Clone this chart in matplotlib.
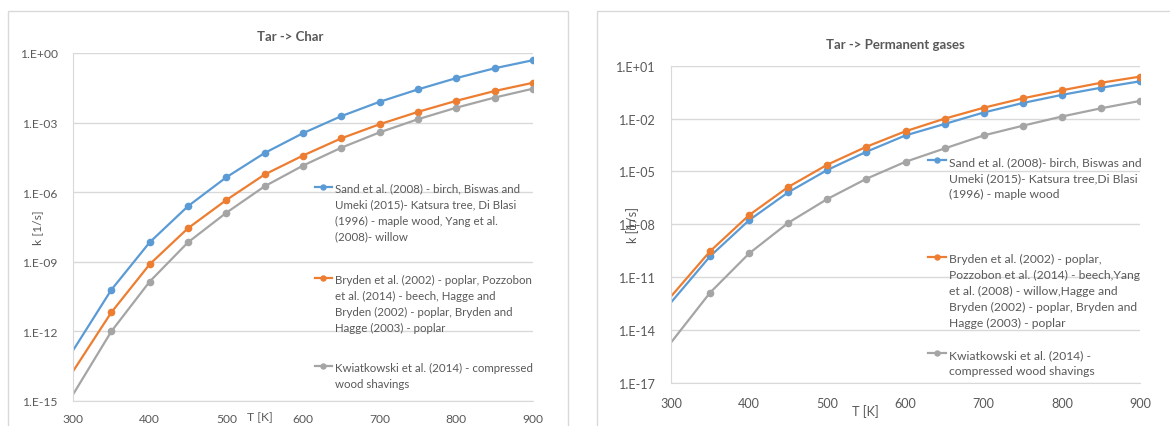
import numpy as np
import matplotlib
matplotlib.use('Agg')
import matplotlib.pyplot as plt
from matplotlib.patches import Rectangle

plt.rcParams['font.family'] = ['Lato', 'DejaVu Sans']

# temperature grid [K]
T = [300, 350, 400, 450, 500, 550, 600, 650, 700, 750, 800, 850, 900]

# Tar -> Char, k [1/s]
char_blue = [1.5e-13, 6.2e-11, 6.9e-9, 2.5e-7, 4.4e-6, 4.9e-5, 3.5e-4,
             1.9e-3, 7.9e-3, 2.7e-2, 8.3e-2, 0.22, 0.49]
char_orange = [1.9e-14, 6.6e-12, 7.8e-10, 2.8e-8, 4.6e-7, 5.8e-6, 3.8e-5,
               2.1e-4, 8.5e-4, 2.9e-3, 8.7e-3, 2.3e-2, 5.2e-2]
char_gray = [1.9e-15, 1.0e-12, 1.4e-10, 6.9e-9, 1.3e-7, 1.8e-6, 1.4e-5,
             8.3e-5, 3.8e-4, 1.4e-3, 4.4e-3, 1.2e-2, 2.9e-2]

# Tar -> Permanent gases, k [1/s]
gas_blue = [3.6e-13, 1.5e-10, 1.7e-8, 6.5e-7, 1.2e-5, 1.3e-4, 1.1e-3,
            4.9e-3, 2.2e-2, 7.6e-2, 0.22, 0.56, 1.3]
gas_orange = [7.9e-13, 2.9e-10, 3.3e-8, 1.3e-6, 2.4e-5, 2.5e-4, 1.9e-3,
              9.8e-3, 4.1e-2, 0.14, 0.40, 1.07, 2.4]
gas_gray = [1.9e-15, 1.3e-12, 2.2e-10, 1.2e-8, 2.7e-7, 3.8e-6, 3.5e-5,
            2.0e-4, 1.1e-3, 3.9e-3, 1.3e-2, 3.8e-2, 0.10]

char_labels = [
    'Sand et al. (2008) - birch, Biswas and\nUmeki (2015)- Katsura tree, Di Blasi\n(1996) - maple wood, Yang et al.\n(2008)- willow',
    'Bryden et al. (2002) - poplar, Pozzobon\net al. (2014) - beech, Hagge and\nBryden (2002) - poplar, Bryden and\nHagge (2003) - poplar',
    'Kwiatkowski et al. (2014) - compressed\nwood shavings',
]
gas_labels = [
    'Sand et al. (2008)- birch, Biswas and\nUmeki (2015)- Katsura tree,Di Blasi\n(1996) - maple wood',
    'Bryden et al. (2002) - poplar,\nPozzobon et al. (2014) - beech,Yang\net al. (2008) - willow,Hagge and\nBryden (2002) - poplar, Bryden and\nHagge (2003) - poplar',
    'Kwiatkowski et al. (2014) -\ncompressed wood shavings',
]

x_ticks = [300, 400, 500, 600, 700, 800, 900]
char_yticks = [1e-15, 1e-12, 1e-9, 1e-6, 1e-3, 1e0]
char_ylabels = ['1.E-15', '1.E-12', '1.E-09', '1.E-06', '1.E-03', '1.E+00']
gas_yticks = [1e-17, 1e-14, 1e-11, 1e-8, 1e-5, 1e-2, 1e1]
gas_ylabels = ['1.E-17', '1.E-14', '1.E-11', '1.E-08', '1.E-05', '1.E-02', '1.E+01']

colors = ['#5B9BD5', '#ED7D31', '#A5A5A5']
txt = '#595959'
grid = '#D9D9D9'

W, H = 1170, 427


def draw(ax, series, labels, yticks, ylabels, fs, leg_x, leg_tops, xlab_xy, ylab_x, xpad):
    lines = []
    for y, c, lab in zip(series, colors, labels):
        ln, = ax.plot(T, y, color=c, lw=1.6, marker='o', ms=4.5,
                      markevery=slice(1, None), label=lab)
        lines.append(ln)
    ax.set_yscale('log')
    ax.set_xlim(300, 900)
    ax.set_ylim(yticks[0], yticks[-1])
    ax.set_yticks(yticks)
    ax.set_yticklabels(ylabels)
    ax.minorticks_off()
    ax.set_xticks(x_ticks)
    ax.yaxis.grid(True, color=grid, lw=1)
    ax.set_axisbelow(True)
    for s in ['top', 'right']:
        ax.spines[s].set_visible(False)
    for s in ['left', 'bottom']:
        ax.spines[s].set_color(grid)
    ax.tick_params(length=0, labelsize=fs + 0.4, labelcolor=txt)
    ax.tick_params(axis='y', pad=11)
    ax.tick_params(axis='x', pad=xpad)
    ax.set_ylabel('k [1/s]', fontsize=fs + 0.4, color=txt)
    ax.yaxis.set_label_coords(ylab_x, 0.5)
    ax.text(xlab_xy[0], xlab_xy[1], 'T [K]', transform=ax.transAxes,
            fontsize=fs + 0.4, color=txt, ha='center', va='center')

    # one legend block per series, marker next to the first text line
    for ln, top in zip(lines, leg_tops):
        leg = fig.legend(handles=[ln], loc='upper left',
                         bbox_to_anchor=(leg_x / W, 1 - top / H),
                         frameon=False, fontsize=fs, borderpad=0,
                         handlelength=1.5, handletextpad=0.25,
                         labelcolor=txt, markerscale=0.8)
        for t in leg.get_texts():
            t.set_linespacing(1.55)
        for col in leg._legend_handle_box.get_children():
            for item in col.get_children():
                item.align = 'top'


fig = plt.figure(figsize=(11.7, 4.27), dpi=100)

# chart frames
fig.add_artist(Rectangle((8 / W, -0.1), 560 / W, 1.1 - 12 / H,
                         transform=fig.transFigure, fill=False, ec=grid, lw=1))
fig.add_artist(Rectangle((597 / W, -0.1), 0.6, 1.1 - 12 / H,
                         transform=fig.transFigure, fill=False, ec=grid, lw=1))

ax1 = fig.add_axes([73 / W, 1 - 402 / H, 460 / W, 348 / H])
draw(ax1, [char_blue, char_orange, char_gray], char_labels,
     char_yticks, char_ylabels, 8.3, 309, [178, 269, 357],
     (0.407, -0.046), -0.064, 9)
fig.text(290 / W, 1 - 37 / H, 'Tar -> Char', ha='center', va='center',
         fontsize=9.5, fontweight='bold', color=txt)

ax2 = fig.add_axes([671 / W, 1 - 383.7 / H, 469 / W, 317 / H])
draw(ax2, [gas_blue, gas_orange, gas_gray], gas_labels,
     gas_yticks, gas_ylabels, 8.7, 922, [151, 248, 344],
     (0.414, -0.089), -0.068, 10)
fig.text(895 / W, 1 - 45 / H, 'Tar -> Permanent gases', ha='center',
         va='center', fontsize=9.5, fontweight='bold', color=txt)

fig.savefig('out.png', dpi=100)
